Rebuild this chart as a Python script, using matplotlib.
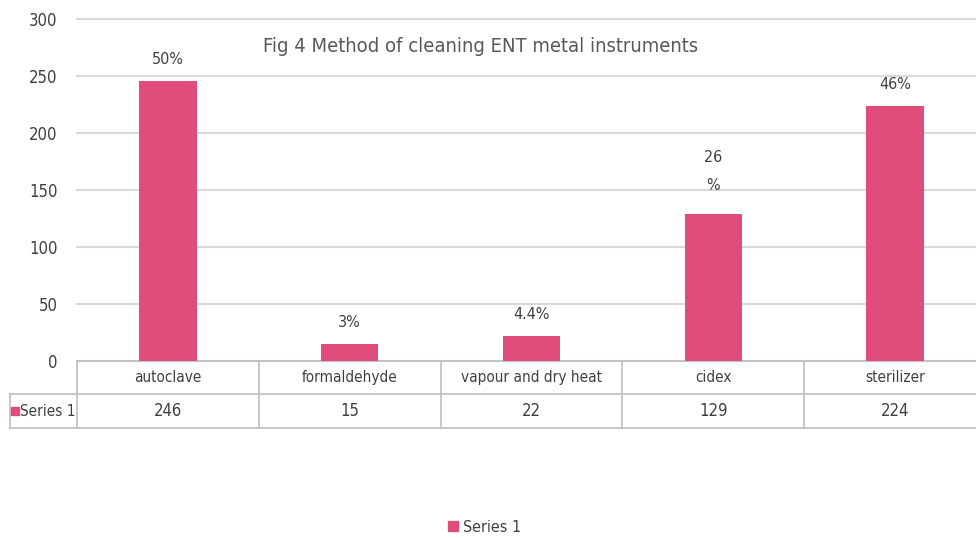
import matplotlib
matplotlib.use("Agg")
import matplotlib.pyplot as plt
from matplotlib.lines import Line2D

plt.rcParams['font.family'] = ['DejaVu Sans']
plt.rcParams['font.stretch'] = 'condensed'

categories = ["autoclave", "formaldehyde", "vapour and dry heat", "cidex", "sterilizer"]
values = [246, 15, 22, 129, 224]
pct_labels = ["50%", "3%", "4.4%", "26\n%", "46%"]
series_name = "Series 1"
title = "Fig 4 Method of cleaning ENT metal instruments"
yticks = [0, 50, 100, 150, 200, 250, 300]

bar_color = "#E14D7B"
text_color = "#404040"
grid_color = "#D9D9D9"
line_color = "#BFBFBF"

W, H = 976, 538
fig = plt.figure(figsize=(W / 100, H / 100), dpi=100)
left_px, right_px, top_px, base_px = 77, 986, 19, 361
ax = fig.add_axes([left_px / W, 1 - base_px / H, (right_px - left_px) / W, (base_px - top_px) / H])

n = len(categories)
x = list(range(n))
ax.bar(x, values, width=0.315, color=bar_color, zorder=3)
ax.set_xlim(-0.5, n - 0.5)
ax.set_ylim(0, 300)
ax.set_yticks(yticks)
ax.set_yticklabels([str(t) for t in yticks], fontsize=12, color=text_color)
ax.tick_params(axis='y', length=0, pad=14)
ax.set_xticks([])
for s in ax.spines.values():
    s.set_visible(False)
ax.grid(axis='y', color=grid_color, linewidth=1.5, zorder=0)
for gl in ax.get_ygridlines():
    gl.set_clip_on(False)

# percentage labels above the bars (wrapped labels sit a little higher)
for xi, v, lab in zip(x, values, pct_labels):
    extra = 5 * lab.count("\n")
    ax.annotate(lab, (xi, v), xytext=(0, 10 + extra), textcoords='offset points',
                ha='center', va='bottom', fontsize=11.5, color=text_color,
                linespacing=2.1)

ax.text(0.444, 0.92, title, transform=ax.transAxes, ha='center', va='center',
        fontsize=14.5, color="#595959")

# data table under the axis
ax_h = base_px - top_px
ax_w = right_px - left_px
r1 = -33 / ax_h
r2 = -67 / ax_h
lab_x = (10 - left_px) / ax_w
tkw = dict(transform=ax.transAxes, color=line_color, linewidth=1.2, clip_on=False)
ax.add_line(Line2D([0, 1], [0, 0], **tkw))
ax.add_line(Line2D([lab_x, 1], [r1, r1], **tkw))
ax.add_line(Line2D([lab_x, 1], [r2, r2], **tkw))
ax.add_line(Line2D([lab_x, lab_x], [r1, r2], **tkw))
for i in range(n + 1):
    xb = i / n
    ax.add_line(Line2D([xb, xb], [0, r2], **tkw))
for i, (c, v) in enumerate(zip(categories, values)):
    xc = (i + 0.5) / n
    ax.text(xc, r1 / 2, c, transform=ax.transAxes, ha='center', va='center',
            fontsize=11, color=text_color)
    ax.text(xc, (r1 + r2) / 2, str(v), transform=ax.transAxes, ha='center',
            va='center', fontsize=12, color=text_color)
ax.plot([lab_x + 0.005], [(r1 + r2) / 2], marker='s', markersize=6, color=bar_color,
        transform=ax.transAxes, clip_on=False)
ax.text(lab_x + 0.011, (r1 + r2) / 2, series_name, transform=ax.transAxes,
        ha='left', va='center', fontsize=11, color=text_color)

# legend
handle = Line2D([], [], marker='s', linestyle='none', markersize=7, color=bar_color)
fig.legend([handle], [series_name], loc='center', bbox_to_anchor=(484 / W, 1 - 527 / H),
           frameon=False, fontsize=11.5, handletextpad=0.2, handlelength=0.8,
           labelcolor=text_color)

fig.savefig("out.png", dpi=100)
